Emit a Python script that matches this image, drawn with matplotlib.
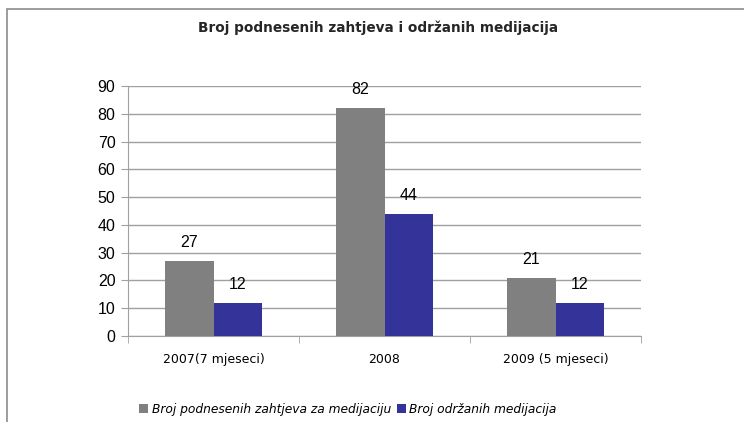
import numpy as np
import matplotlib.pyplot as plt
from matplotlib.patches import Rectangle

categories = ['2007(7 mjeseci)', '2008', '2009 (5 mjeseci)']
podneseni = [27, 82, 21]
odrzani = [12, 44, 12]
series_names = ['Broj podnesenih zahtjeva za medijaciju', 'Broj održanih medijacija']
title = 'Broj podnesenih zahtjeva i održanih medijacija'

gray = '#808080'
blue = '#333399'
axis_col = '#a0a0a0'

fig = plt.figure(figsize=(7.44, 4.22), dpi=100)
# chart border (cut off on right and bottom like the source)
fig.patches.append(Rectangle((7/744, -0.05), 1.1, 1 - 9/422 + 0.05, transform=fig.transFigure,
                             fill=False, edgecolor='#8c8c8c', linewidth=1.2))

ax = fig.add_axes([128/744, 1 - 336/422, (641 - 128)/744, (336 - 86)/422])
x = np.arange(len(categories))
w = 0.285
b1 = ax.bar(x - w/2, podneseni, w, color=gray, label=series_names[0], zorder=3)
b2 = ax.bar(x + w/2, odrzani, w, color=blue, label=series_names[1], zorder=3)

for bars, vals in ((b1, podneseni), (b2, odrzani)):
    for r, v in zip(bars, vals):
        ax.annotate(str(v), (r.get_x() + r.get_width()/2, v), xytext=(0, 8),
                    textcoords='offset points', ha='center', va='bottom',
                    fontsize=11.5, family='Liberation Sans')

ax.set_ylim(0, 90)
ax.set_xlim(-0.5, 2.5)
ax.set_yticks(range(0, 91, 10))
ax.yaxis.grid(True, color=axis_col, linewidth=1, zorder=0)
ax.set_xticks(x)
ax.set_xticklabels(categories, fontsize=9, family='DejaVu Sans')
ax.set_xticks([-0.5, 0.5, 1.5, 2.5], minor=True)
ax.tick_params(axis='x', which='major', length=0, pad=12)
ax.tick_params(axis='x', which='minor', length=5, color=axis_col, direction='out')
ax.tick_params(axis='y', length=5, color=axis_col, pad=4, labelsize=11.5)
for lab in ax.get_yticklabels():
    lab.set_family('Liberation Sans')
for s in ('top', 'right'):
    ax.spines[s].set_visible(False)
for s in ('left', 'bottom'):
    ax.spines[s].set_color(axis_col)

fig.text(378/744, 1 - 28/422, title, ha='center', va='center', fontsize=9.8,
         fontweight='bold', color='#262626', family='DejaVu Sans')

leg = fig.legend(loc='center', bbox_to_anchor=(348/744, 1 - 409/422), ncol=2, frameon=False,
                 prop={'family': 'DejaVu Sans', 'style': 'italic', 'size': 8.8},
                 handlelength=0.7, handleheight=0.7, handletextpad=0.3, columnspacing=0.5)

fig.savefig('out.png', dpi=100)
